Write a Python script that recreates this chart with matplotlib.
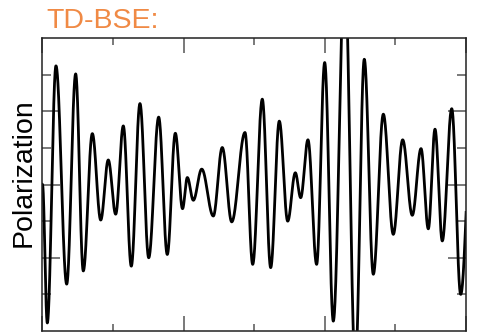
import numpy as np
import matplotlib.pyplot as plt

# extrema of the polarization trace (time, value), read peak to trough
t_ext = [0.000, 0.068, 0.191, 0.343, 0.470, 0.578, 0.706, 0.825, 0.932, 1.037,
         1.145, 1.258, 1.381, 1.505, 1.646, 1.768, 1.882, 1.984, 2.052, 2.137,
         2.256, 2.420, 2.547, 2.681, 2.869, 2.978, 3.114, 3.233, 3.355, 3.474,
         3.582, 3.658, 3.761, 3.884, 3.998, 4.120, 4.282, 4.432, 4.559, 4.687,
         4.829, 4.970, 5.103, 5.239, 5.363, 5.466, 5.561, 5.664, 5.798, 5.925,
         6.090]
p_ext = [0.00, -3.78, 3.24, -2.72, 3.02, -2.36, 1.39, -0.97, 0.67, -0.81,
         1.60, -2.23, 2.21, -2.00, 1.84, -1.91, 1.40, -0.66, 0.19, -0.43,
         0.42, -0.86, 1.01, -1.02, 1.42, -2.18, 2.33, -2.27, 1.73, -1.00,
         0.32, -0.36, 1.22, -2.18, 3.33, -3.73, 5.90, -4.96, 3.42, -2.45,
         1.92, -1.36, 1.22, -0.84, 0.98, -1.21, 1.51, -1.54, 2.07, -3.00,
         2.00]


def smooth_trace(tk, pk, n=60):
    # half-cosine between neighbouring extrema -> zero slope at each turning point
    ts, ps = [], []
    for i in range(len(tk) - 1):
        f = np.linspace(0, 1, n, endpoint=False)
        w = (1 - np.cos(np.pi * f)) / 2
        ts.append(tk[i] + (tk[i + 1] - tk[i]) * f)
        ps.append(pk[i] + (pk[i + 1] - pk[i]) * w)
    ts.append([tk[-1]])
    ps.append([pk[-1]])
    return np.concatenate(ts), np.concatenate(ps)


t, p = smooth_trace(t_ext, p_ext)

plt.rcParams['font.family'] = ['Liberation Sans', 'DejaVu Sans']

fig = plt.figure(figsize=(4.85, 3.32), dpi=100)
ax = fig.add_axes([0.0876, 0.003, 0.8732, 0.8825])
ax.plot(t, p, color='black', lw=2.0)

ax.set_xlim(0, 6)
ax.set_ylim(-4, 4)
ax.set_xticks([0, 2, 4, 6])
ax.set_xticks([1, 3, 5], minor=True)
ax.set_yticks([-2, 0, 2])
ax.set_yticks([-3, -1, 1, 3], minor=True)
ax.tick_params(which='both', direction='in', top=True, right=True,
               labelbottom=False, labelleft=False, color='#555555', width=1.1)
ax.tick_params(axis='x', which='major', length=11)
ax.tick_params(axis='x', which='minor', length=5)
ax.tick_params(axis='y', which='major', length=13)
ax.tick_params(axis='y', which='minor', length=6.5)
for s in ax.spines.values():
    s.set_color('#222222')
    s.set_linewidth(1.1)

ax.set_ylabel('Polarization', fontsize=20.5)
ax.yaxis.set_label_coords(-0.015, 0.539)
fig.text(0.095, 0.9157, 'TD-BSE:', color='#F08A45', fontsize=20.5, ha='left', va='baseline')

fig.savefig('out.png', dpi=100)
